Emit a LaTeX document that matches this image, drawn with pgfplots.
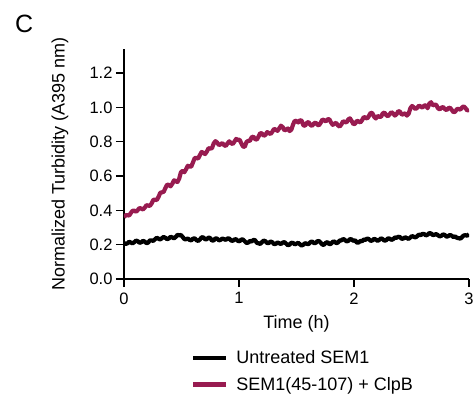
\documentclass[border=0pt]{standalone}
\usepackage{fontspec}
\setmainfont{Liberation Sans}
\usepackage{pgfplots}
\usepackage{pgfplotstable}
\pgfplotsset{compat=1.18}
\definecolor{plum}{RGB}{152,27,80}
\newcommand{\fs}{\fontsize{18}{21}\selectfont}
\newcommand{\ts}{\fontsize{16.5}{19}\selectfont}
\pgfplotstableread{
t v
0.000 0.210
0.015 0.204
0.030 0.208
0.045 0.217
0.060 0.212
0.075 0.208
0.090 0.215
0.105 0.224
0.120 0.220
0.135 0.211
0.150 0.214
0.165 0.222
0.180 0.218
0.195 0.209
0.210 0.212
0.225 0.225
0.240 0.225
0.255 0.222
0.270 0.232
0.285 0.240
0.300 0.235
0.315 0.230
0.330 0.238
0.345 0.245
0.360 0.240
0.375 0.232
0.390 0.236
0.405 0.246
0.420 0.242
0.435 0.237
0.450 0.245
0.465 0.257
0.480 0.255
0.495 0.256
0.510 0.245
0.525 0.232
0.540 0.232
0.555 0.236
0.570 0.228
0.585 0.225
0.600 0.235
0.615 0.237
0.630 0.226
0.645 0.222
0.660 0.230
0.675 0.243
0.690 0.242
0.705 0.231
0.720 0.232
0.735 0.242
0.750 0.238
0.765 0.224
0.780 0.225
0.795 0.237
0.810 0.235
0.825 0.225
0.840 0.228
0.855 0.236
0.870 0.232
0.885 0.228
0.900 0.236
0.915 0.236
0.930 0.225
0.945 0.222
0.960 0.230
0.975 0.232
0.990 0.222
1.005 0.220
1.020 0.230
1.035 0.230
1.050 0.220
1.065 0.210
1.080 0.212
1.095 0.222
1.110 0.218
1.125 0.228
1.140 0.226
1.155 0.211
1.170 0.208
1.185 0.204
1.200 0.215
1.215 0.224
1.230 0.220
1.245 0.209
1.260 0.210
1.275 0.219
1.290 0.214
1.305 0.203
1.320 0.205
1.335 0.213
1.350 0.208
1.365 0.204
1.380 0.212
1.395 0.215
1.410 0.206
1.425 0.197
1.440 0.200
1.455 0.211
1.470 0.210
1.485 0.202
1.500 0.206
1.515 0.211
1.530 0.202
1.545 0.195
1.560 0.200
1.575 0.209
1.590 0.205
1.605 0.203
1.620 0.214
1.635 0.219
1.650 0.210
1.665 0.209
1.680 0.220
1.695 0.221
1.710 0.212
1.725 0.200
1.740 0.200
1.755 0.211
1.770 0.215
1.785 0.203
1.800 0.205
1.815 0.217
1.830 0.218
1.845 0.209
1.860 0.212
1.875 0.224
1.890 0.225
1.905 0.233
1.920 0.228
1.935 0.219
1.950 0.222
1.965 0.233
1.980 0.230
1.995 0.222
2.010 0.226
2.025 0.212
2.040 0.212
2.055 0.222
2.070 0.220
2.085 0.230
2.100 0.228
2.115 0.236
2.130 0.232
2.145 0.222
2.160 0.225
2.175 0.234
2.190 0.230
2.205 0.222
2.220 0.228
2.235 0.237
2.250 0.232
2.265 0.223
2.280 0.226
2.295 0.237
2.310 0.235
2.325 0.228
2.340 0.232
2.355 0.242
2.370 0.240
2.385 0.246
2.400 0.244
2.415 0.234
2.430 0.236
2.445 0.243
2.460 0.238
2.475 0.234
2.490 0.242
2.505 0.250
2.520 0.246
2.535 0.242
2.550 0.250
2.565 0.259
2.580 0.255
2.595 0.263
2.610 0.262
2.625 0.254
2.640 0.258
2.655 0.268
2.670 0.265
2.685 0.256
2.700 0.258
2.715 0.262
2.730 0.255
2.745 0.248
2.760 0.252
2.775 0.260
2.790 0.256
2.805 0.246
2.820 0.250
2.835 0.257
2.850 0.252
2.865 0.244
2.880 0.248
2.895 0.240
2.910 0.238
2.925 0.235
2.940 0.245
2.955 0.254
2.970 0.255
2.985 0.252
3.000 0.262
}\untreated
\pgfplotstableread{
t v
0.000 0.360
0.015 0.372
0.030 0.372
0.045 0.370
0.060 0.385
0.075 0.398
0.090 0.398
0.105 0.392
0.120 0.402
0.135 0.414
0.150 0.410
0.165 0.405
0.180 0.415
0.195 0.430
0.210 0.428
0.225 0.426
0.240 0.440
0.255 0.461
0.270 0.462
0.285 0.460
0.300 0.478
0.315 0.502
0.330 0.505
0.345 0.508
0.360 0.530
0.375 0.550
0.390 0.548
0.405 0.540
0.420 0.555
0.435 0.575
0.450 0.570
0.465 0.565
0.480 0.585
0.495 0.622
0.510 0.630
0.525 0.622
0.540 0.640
0.555 0.660
0.570 0.655
0.585 0.655
0.600 0.680
0.615 0.705
0.630 0.705
0.645 0.702
0.660 0.722
0.675 0.740
0.690 0.735
0.705 0.728
0.720 0.742
0.735 0.762
0.750 0.760
0.765 0.762
0.780 0.790
0.795 0.803
0.810 0.795
0.825 0.780
0.840 0.785
0.855 0.792
0.870 0.780
0.885 0.775
0.900 0.790
0.915 0.802
0.930 0.792
0.945 0.786
0.960 0.800
0.975 0.816
0.990 0.810
1.005 0.812
1.020 0.790
1.035 0.772
1.050 0.770
1.065 0.798
1.080 0.805
1.095 0.805
1.110 0.825
1.125 0.830
1.140 0.815
1.155 0.812
1.170 0.830
1.185 0.850
1.200 0.848
1.215 0.834
1.230 0.840
1.245 0.856
1.260 0.850
1.275 0.845
1.290 0.858
1.305 0.875
1.320 0.870
1.335 0.863
1.350 0.878
1.365 0.893
1.380 0.885
1.395 0.866
1.410 0.870
1.425 0.877
1.440 0.862
1.455 0.870
1.470 0.900
1.485 0.922
1.500 0.920
1.515 0.912
1.530 0.925
1.545 0.922
1.560 0.895
1.575 0.893
1.590 0.910
1.605 0.915
1.620 0.898
1.635 0.892
1.650 0.905
1.665 0.912
1.680 0.900
1.695 0.895
1.710 0.910
1.725 0.929
1.740 0.925
1.755 0.918
1.770 0.930
1.785 0.931
1.800 0.912
1.815 0.898
1.830 0.905
1.845 0.910
1.860 0.895
1.875 0.888
1.890 0.900
1.905 0.919
1.920 0.915
1.935 0.912
1.950 0.930
1.965 0.936
1.980 0.920
1.995 0.902
2.010 0.905
2.025 0.922
2.040 0.918
2.055 0.912
2.070 0.925
2.085 0.944
2.100 0.940
2.115 0.935
2.130 0.950
2.145 0.969
2.160 0.965
2.175 0.945
2.190 0.935
2.205 0.950
2.220 0.945
2.235 0.945
2.250 0.965
2.265 0.970
2.280 0.955
2.295 0.948
2.310 0.960
2.325 0.972
2.340 0.965
2.355 0.952
2.370 0.960
2.385 0.978
2.400 0.975
2.415 0.958
2.430 0.960
2.445 0.966
2.460 0.952
2.475 0.962
2.490 0.995
2.505 1.008
2.520 1.000
2.535 0.990
2.550 0.998
2.565 1.010
2.580 1.005
2.595 0.998
2.610 1.010
2.625 1.012
2.640 0.995
2.655 1.022
2.670 1.030
2.685 1.012
2.700 1.015
2.715 1.015
2.730 0.995
2.745 0.988
2.760 0.998
2.775 1.002
2.790 0.990
2.805 0.984
2.820 0.995
2.835 0.998
2.850 0.985
2.865 0.972
2.880 0.975
2.895 0.990
2.910 0.990
2.925 0.987
2.940 1.000
2.955 1.006
2.970 0.995
2.985 0.982
3.000 0.985
}\treated
\begin{document}
\begin{tikzpicture}
\useasboundingbox (-124pt,-115pt) rectangle (352pt,279pt);
\begin{axis}[
  anchor=origin, at={(0pt,0pt)},
  scale only axis, width=345pt, height=230pt,
  xmin=0, xmax=3, ymin=0, ymax=1.34,
  axis x line*=bottom, axis y line*=left,
  axis line style={line width=1.6pt, -},
  tick style={line width=1.4pt, black},
  tick align=outside, major tick length=8pt,
  xtick={0,1,2,3}, ytick={0,0.2,0.4,0.6,0.8,1.0,1.2},
  /pgf/number format/assume math mode=true,
  yticklabel style={/pgf/number format/fixed, /pgf/number format/fixed zerofill, /pgf/number format/precision=1, font=\ts},
  xticklabel style={font=\ts, yshift=-2pt},
  xlabel={Time (h)}, ylabel={Normalized Turbidity (A395 nm)},
  xlabel style={font=\fs, at={(axis description cs:0.5,-0.217)}, anchor=base},
  ylabel style={font=\fs, at={(axis description cs:-0.1855,0.5)}, anchor=center},
  legend style={at={(axis description cs:0.194,-0.302)}, anchor=north west, draw=none, fill=none, font=\fs, row sep=8pt, inner sep=0pt, cells={anchor=west}},
  legend image code/.code={\draw[#1] (0pt,0pt) -- (33pt,0pt); \path (39pt,0pt);},
]
\addplot[black, line width=4.2pt, line join=round] table[x=t,y=v] {\untreated};
\addlegendentry{Untreated SEM1}
\addplot[plum, line width=4.2pt, line join=round] table[x=t,y=v] {\treated};
\addlegendentry{SEM1(45-107) + ClpB}
\end{axis}
\node[anchor=base west, inner sep=0pt, font=\fontsize{25}{28}\selectfont] at (-109pt,246pt) {C};
\end{tikzpicture}
\end{document}
